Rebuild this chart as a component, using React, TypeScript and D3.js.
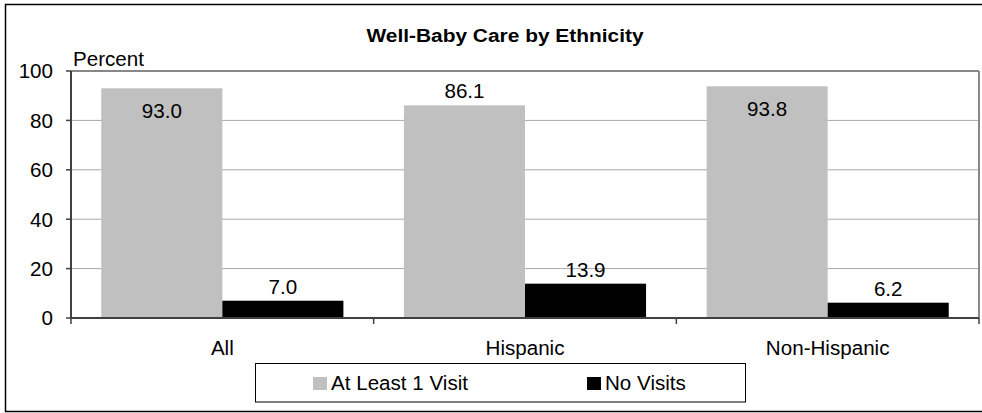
import React from "react";
import * as d3 from "d3";

const categories = ["All", "Hispanic", "Non-Hispanic"];
const seriesNames = ["At Least 1 Visit", "No Visits"];
const atLeastOneVisit = [93.0, 86.1, 93.8];
const noVisits = [7.0, 13.9, 6.2];
const yTicks = [0, 20, 40, 60, 80, 100];
const seriesColors = ["#c0c0c0", "#000000"];

const W = 982;
const H = 413;
const M = { left: 71, right: 979, top: 71, bottom: 318 };
const FONT = "'Liberation Sans', Arial, sans-serif";

function T({ x, y, anchor = "middle", size = 20, weight = "normal", sx = 1.03, children }: any) {
  return (
    <text
      transform={`translate(${x},${y}) scale(${sx},1)`}
      textAnchor={anchor}
      fontSize={size}
      fontWeight={weight}
      fontFamily={FONT}
      fill="#000"
    >
      {children}
    </text>
  );
}

export default function App() {
  const x = d3.scaleBand<string>().domain(categories).range([M.left, M.right]).paddingInner(0.2).paddingOuter(0.1);
  const xs = d3.scaleBand<string>().domain(seriesNames).range([0, x.bandwidth()]).padding(0);
  const y = d3.scaleLinear().domain([0, 100]).range([M.bottom, M.top]);
  const step = x.step();
  const boundaries = d3.range(categories.length + 1).map((i) => M.left + i * step);
  const series = [atLeastOneVisit, noVisits];

  return (
    <svg width={W} height={H} style={{ position: "absolute", left: 0, top: 0, overflow: "hidden" }}>
      <rect x={0} y={0} width={W} height={H} fill="#fff" />
      <rect x={5.5} y={4.5} width={1200} height={407} fill="#fff" stroke="#000" strokeWidth={1.5} />
      <T x={505} y={42} weight="bold" size={19} sx={1.1}>Well-Baby Care by Ethnicity</T>
      {/* gridlines */}
      {yTicks.filter((t) => t > 0 && t < 100).map((t) => (
        <line key={t} x1={M.left} x2={M.right} y1={y(t)} y2={y(t)} stroke="#a8a8a8" strokeWidth={1} />
      ))}
      {/* plot border top & right */}
      <line x1={M.left} x2={M.right} y1={y(100)} y2={y(100)} stroke="#888" strokeWidth={2} />
      <line x1={M.right} x2={M.right} y1={y(100)} y2={y(0)} stroke="#888" strokeWidth={2} />
      {/* bars */}
      {series.map((vals, si) =>
        categories.map((c, ci) => (
          <rect
            key={si + "-" + ci}
            x={(x(c) as number) + (xs(seriesNames[si]) as number)}
            y={y(vals[ci])}
            width={xs.bandwidth()}
            height={y(0) - y(vals[ci])}
            fill={seriesColors[si]}
          />
        ))
      )}
      {/* value labels */}
      {series.map((vals, si) =>
        categories.map((c, ci) => {
          const top = y(vals[ci]);
          const cx = (x(c) as number) + (xs(seriesNames[si]) as number) + xs.bandwidth() / 2;
          const above = top - 7;
          const ly = above - 14 < M.top ? top + 30 : above;
          return (
            <T key={"l" + si + "-" + ci} x={cx} y={ly}>
              {vals[ci].toFixed(1)}
            </T>
          );
        })
      )}
      {/* axes */}
      <line x1={M.left} x2={M.left} y1={y(100)} y2={y(0) + 1} stroke="#404040" strokeWidth={2} />
      <line x1={M.left - 1} x2={M.right} y1={y(0)} y2={y(0)} stroke="#404040" strokeWidth={2} />
      {yTicks.map((t) => (
        <g key={"yt" + t}>
          <line x1={M.left - 5} x2={M.left} y1={y(t)} y2={y(t)} stroke="#404040" strokeWidth={1.5} />
          <T x={53} y={y(t) + 7.3} anchor="end">{t}</T>
        </g>
      ))}
      {boundaries.map((b, i) => (
        <line key={"xt" + i} x1={b} x2={b} y1={y(0)} y2={y(0) + 6} stroke="#404040" strokeWidth={1.5} />
      ))}
      {categories.map((c) => (
        <T key={"c" + c} x={(x(c) as number) + x.bandwidth() / 2} y={355}>{c}</T>
      ))}
      <T x={73} y={66} anchor="start">Percent</T>
      {/* legend */}
      <rect x={255.5} y={363.5} width={490} height={38.5} fill="#fff" stroke="#000" strokeWidth={1} />
      {seriesNames.map((s, i) => {
        const lx = [313, 587][i];
        return (
          <g key={"lg" + s}>
            <rect x={lx} y={377} width={14} height={13} fill={seriesColors[i]} />
            <T x={lx + 18} y={390} anchor="start">{s}</T>
          </g>
        );
      })}
    </svg>
  );
}
